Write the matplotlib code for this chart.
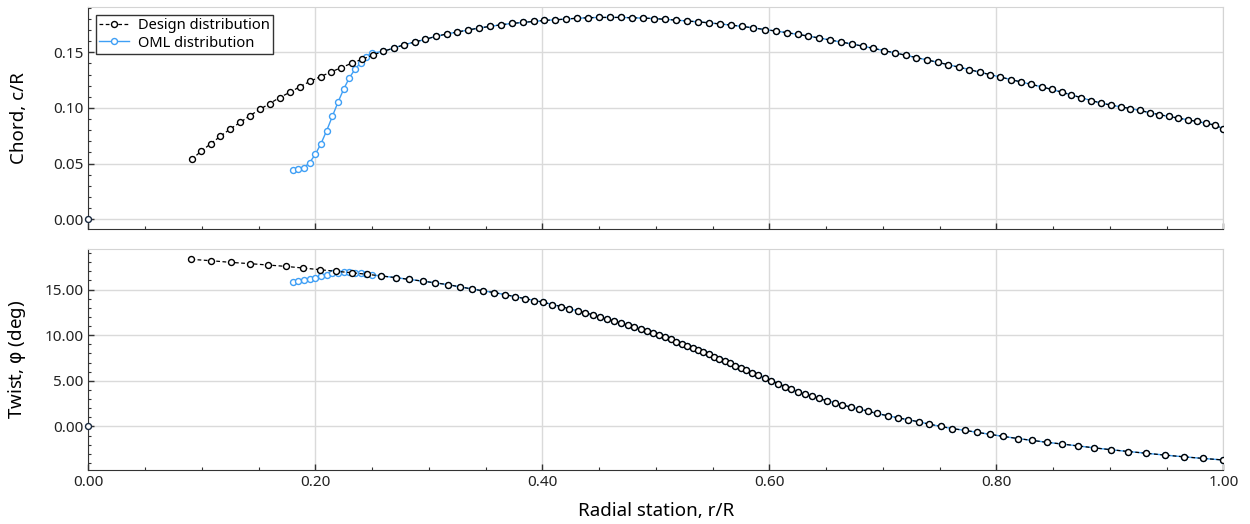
import numpy as np
import matplotlib.pyplot as plt
from matplotlib.ticker import MultipleLocator, FormatStrFormatter

# design distribution, chord (r/R, c/R)
chord_r = [0.0911, 0.0993, 0.1078, 0.1163, 0.1248, 0.1337, 0.1422, 0.1510, 0.1598, 0.1686,
           0.1777, 0.1868, 0.1956, 0.2047, 0.2138, 0.2229, 0.2320, 0.2411, 0.2505, 0.2597,
           0.2691, 0.2784, 0.2876, 0.2969, 0.3063, 0.3157, 0.3251, 0.3348, 0.3442, 0.3539,
           0.3636, 0.3733, 0.3827, 0.3924, 0.4018, 0.4115, 0.4209, 0.4306, 0.4403, 0.4500,
           0.4597, 0.4693, 0.4790, 0.4887, 0.4984, 0.5081, 0.5178, 0.5275, 0.5375, 0.5472,
           0.5569, 0.5665, 0.5762, 0.5859, 0.5959, 0.6056, 0.6153, 0.6250, 0.6344, 0.6441,
           0.6535, 0.6632, 0.6729, 0.6823, 0.6917, 0.7013, 0.7108, 0.7202, 0.7296, 0.7390,
           0.7483, 0.7577, 0.7671, 0.7763, 0.7854, 0.7945, 0.8036, 0.8127, 0.8218, 0.8309,
           0.8400, 0.8487, 0.8574, 0.8662, 0.8749, 0.8837, 0.8925, 0.9011, 0.9096, 0.9181,
           0.9266, 0.9351, 0.9436, 0.9522, 0.9604, 0.9686, 0.9768, 0.9848, 0.9927, 1.0000]
chord_c = [0.0538, 0.0609, 0.0678, 0.0744, 0.0809, 0.0869, 0.0929, 0.0986, 0.1039, 0.1093,
           0.1141, 0.1192, 0.1240, 0.1281, 0.1323, 0.1362, 0.1401, 0.1437, 0.1473, 0.1508,
           0.1537, 0.1568, 0.1592, 0.1616, 0.1643, 0.1664, 0.1682, 0.1700, 0.1718, 0.1732,
           0.1747, 0.1759, 0.1768, 0.1777, 0.1786, 0.1792, 0.1798, 0.1806, 0.1810, 0.1813,
           0.1813, 0.1813, 0.1810, 0.1807, 0.1803, 0.1796, 0.1789, 0.1781, 0.1773, 0.1764,
           0.1754, 0.1744, 0.1732, 0.1719, 0.1704, 0.1691, 0.1676, 0.1661, 0.1645, 0.1628,
           0.1610, 0.1592, 0.1574, 0.1555, 0.1535, 0.1514, 0.1494, 0.1473, 0.1452, 0.1431,
           0.1410, 0.1388, 0.1366, 0.1344, 0.1321, 0.1299, 0.1277, 0.1255, 0.1233, 0.1211,
           0.1189, 0.1166, 0.1142, 0.1117, 0.1091, 0.1066, 0.1043, 0.1025, 0.1009, 0.0994,
           0.0977, 0.0957, 0.0939, 0.0923, 0.0908, 0.0893, 0.0878, 0.0862, 0.0845, 0.0812]

# design distribution, twist (r/R, deg)
twist_r = [0.0908, 0.1084, 0.1254, 0.1422, 0.1583, 0.1739, 0.1892, 0.2038, 0.2182, 0.2320,
           0.2456, 0.2582, 0.2708, 0.2830, 0.2948, 0.3059, 0.3168, 0.3278, 0.3378, 0.3480,
           0.3577, 0.3668, 0.3757, 0.3845, 0.3930, 0.4009, 0.4088, 0.4165, 0.4238, 0.4312,
           0.4379, 0.4444, 0.4508, 0.4573, 0.4635, 0.4693, 0.4752, 0.4811, 0.4867, 0.4922,
           0.4975, 0.5028, 0.5081, 0.5131, 0.5181, 0.5231, 0.5278, 0.5325, 0.5372, 0.5419,
           0.5466, 0.5513, 0.5560, 0.5607, 0.5654, 0.5701, 0.5748, 0.5798, 0.5848, 0.5898,
           0.5958, 0.6018, 0.6077, 0.6135, 0.6194, 0.6256, 0.6318, 0.6379, 0.6441, 0.6508,
           0.6576, 0.6643, 0.6717, 0.6790, 0.6867, 0.6946, 0.7043, 0.7131, 0.7222, 0.7316,
           0.7410, 0.7510, 0.7613, 0.7721, 0.7833, 0.7945, 0.8062, 0.8191, 0.8314, 0.8444,
           0.8579, 0.8720, 0.8864, 0.9014, 0.9163, 0.9319, 0.9483, 0.9651, 0.9824, 1.0000]
twist_t = [18.31, 18.16, 17.98, 17.84, 17.69, 17.54, 17.36, 17.18, 17.00, 16.85,
           16.67, 16.49, 16.31, 16.11, 15.92, 15.73, 15.54, 15.29, 15.07, 14.85,
           14.67, 14.45, 14.23, 14.01, 13.80, 13.61, 13.36, 13.14, 12.89, 12.67,
           12.45, 12.23, 12.01, 11.76, 11.54, 11.32, 11.07, 10.85, 10.63, 10.41,
           10.19, 9.97, 9.76, 9.54, 9.29, 9.06, 8.82, 8.59, 8.35, 8.12,
           7.89, 7.65, 7.41, 7.17, 6.91, 6.65, 6.41, 6.16, 5.90, 5.64,
           5.33, 5.03, 4.70, 4.37, 4.08, 3.79, 3.53, 3.32, 3.06, 2.81,
           2.59, 2.37, 2.11, 1.90, 1.68, 1.42, 1.17, 0.95, 0.73, 0.51,
           0.24, 0.00, -0.24, -0.43, -0.65, -0.87, -1.10, -1.33, -1.53, -1.74,
           -1.93, -2.14, -2.35, -2.56, -2.75, -2.94, -3.14, -3.33, -3.51, -3.68]

# OML distribution near the root, outboard it follows the design stations
oml_root_r = [0.180, 0.185, 0.190, 0.195, 0.200, 0.205, 0.210, 0.215,
              0.220, 0.225, 0.230, 0.235, 0.240, 0.245, 0.250]
oml_root_c = [0.0445, 0.0448, 0.0463, 0.0508, 0.0582, 0.0678, 0.0795, 0.0923,
              0.1051, 0.1168, 0.1270, 0.1347, 0.1407, 0.1461, 0.1492]
oml_root_t = [15.87, 15.94, 16.02, 16.12, 16.27, 16.45, 16.63, 16.78,
              16.85, 16.89, 16.89, 16.85, 16.78, 16.71, 16.60]

hub_r = [0.0]
hub_c = [0.0]
hub_t = [0.0]

plt.rcParams['font.family'] = ['Noto Sans', 'DejaVu Sans']
plt.rcParams['mathtext.fontset'] = 'dejavusans'

blue = '#3f9ff5'
cr, cc = np.array(chord_r), np.array(chord_c)
tr, tt = np.array(twist_r), np.array(twist_t)
oml_cr = np.concatenate([oml_root_r, cr[cr > 0.255]])
oml_cc = np.concatenate([oml_root_c, cc[cr > 0.255]])
oml_tr = np.concatenate([oml_root_r, tr[tr > 0.255]])
oml_tt = np.concatenate([oml_root_t, tt[tr > 0.255]])

fig = plt.figure(figsize=(12.5, 5.24), dpi=100)
ax1 = fig.add_axes([0.0706, 0.5624, 0.9081, 0.4236])
ax2 = fig.add_axes([0.0706, 0.1030, 0.9081, 0.4212], sharex=ax1)

mk = dict(marker='o', markersize=4.3, markerfacecolor='white', markeredgewidth=1.0)

for ax, dr, dv, orr, ov, hv in [(ax1, cr, cc, oml_cr, oml_cc, hub_c),
                                (ax2, tr, tt, oml_tr, oml_tt, hub_t)]:
    ax.plot(orr, ov, '-', color=blue, lw=1.0, markeredgecolor=blue, zorder=3,
            label='OML distribution', **mk)
    ax.plot(dr, dv, '--', color='black', lw=0.9, markeredgecolor='black', zorder=4,
            dashes=(3, 2), label='Design distribution', **mk)
    ax.plot(hub_r, hv, ls='none', markeredgecolor='#1a2a40', zorder=5, clip_on=False, **mk)

    ax.grid(True, which='major', color='#dadada', lw=1.0)
    ax.set_axisbelow(True)
    for s in ['top', 'right']:
        ax.spines[s].set_color('#d4d4d4')
    for s in ['left', 'bottom']:
        ax.spines[s].set_color('#333333')
    ax.tick_params(which='both', direction='in', colors='#333333', labelcolor='#222222',
                   labelsize=11, top=False, right=False)
    ax.tick_params(which='major', length=4.5, width=1)
    ax.tick_params(which='minor', length=2.5, width=0.8)
    ax.xaxis.set_major_locator(MultipleLocator(0.2))
    ax.xaxis.set_minor_locator(MultipleLocator(0.05))
    ax.xaxis.set_major_formatter(FormatStrFormatter('%.2f'))
    ax.yaxis.set_major_formatter(FormatStrFormatter('%.2f'))

ax1.set_xlim(0, 1)
ax1.yaxis.set_major_locator(MultipleLocator(0.05))
ax1.yaxis.set_minor_locator(MultipleLocator(0.01))
ax2.yaxis.set_major_locator(MultipleLocator(5))
ax2.yaxis.set_minor_locator(MultipleLocator(1))
ax1.tick_params(labelbottom=False)

ax1.set_ylabel('Chord, c/R', fontsize=13.5)
ax2.set_ylabel('Twist, $\\mathrm{\\varphi}$ (deg)', fontsize=13.5)
ax1.yaxis.set_label_coords(-0.053, 0.5)
ax2.yaxis.set_label_coords(-0.053, 0.5)
ax2.set_xlabel('Radial station, r/R', fontsize=13.5, labelpad=9)

h, l = ax1.get_legend_handles_labels()
leg = ax1.legend([h[1], h[0]], [l[1], l[0]], loc='upper left',
                 fontsize=10.6, fancybox=False, framealpha=1, borderaxespad=0.5,
                 handlelength=2.0, borderpad=0.25, labelspacing=0.15, handletextpad=0.6)
leg.get_frame().set_edgecolor('#333333')
leg.get_frame().set_linewidth(1.0)

fig.savefig('out.png', dpi=100)
